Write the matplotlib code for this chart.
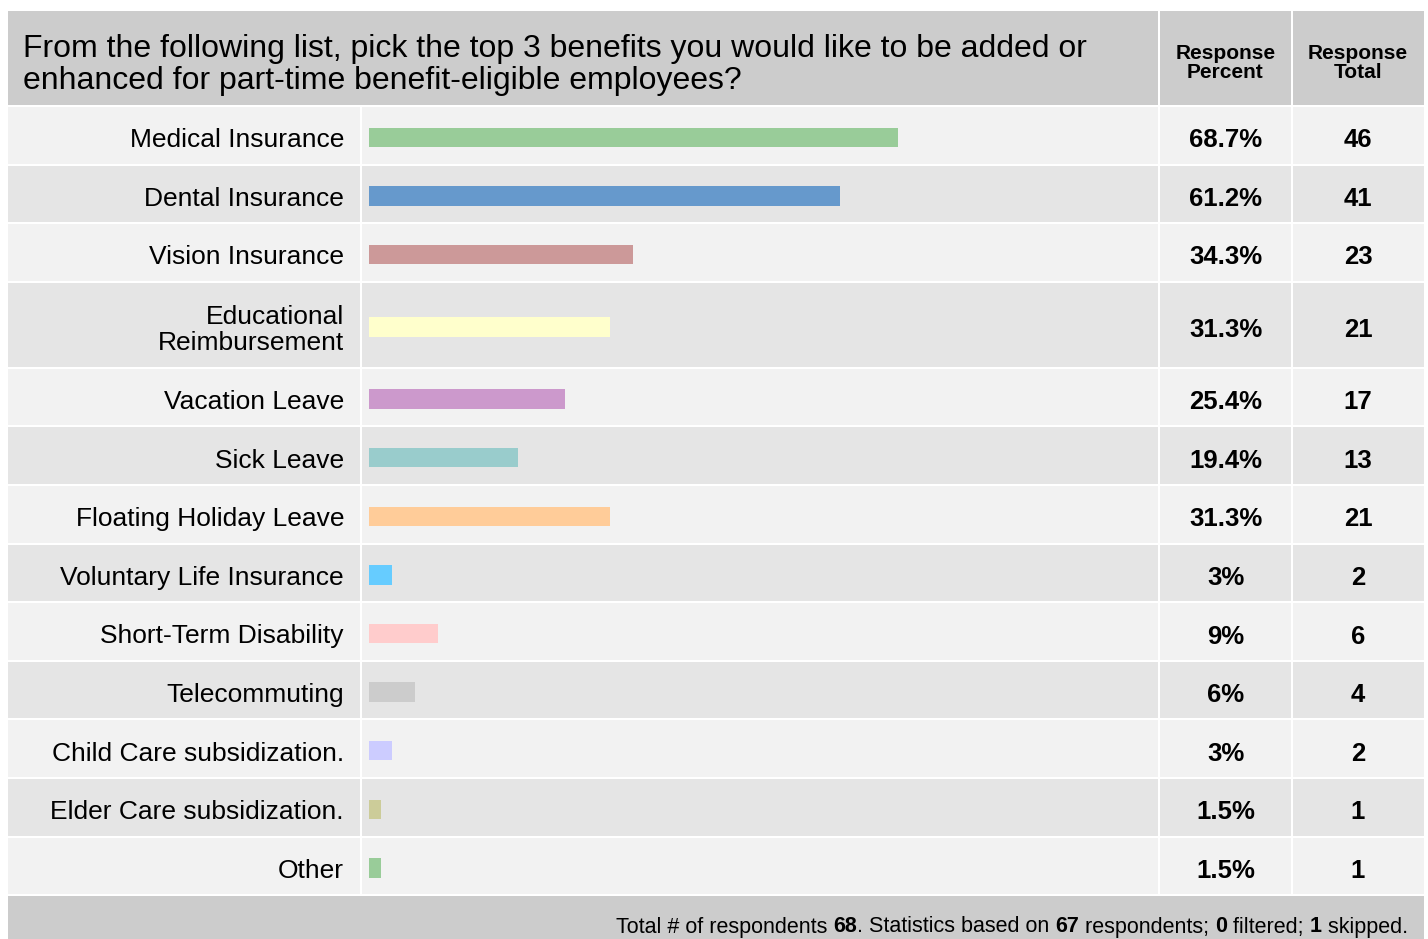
import matplotlib
matplotlib.use("Agg")
import matplotlib.pyplot as plt
from matplotlib.patches import Rectangle
from matplotlib import font_manager

# survey data
categories = ["Medical Insurance", "Dental Insurance", "Vision Insurance",
              "Educational\nReimbursement", "Vacation Leave", "Sick Leave",
              "Floating Holiday Leave", "Voluntary Life Insurance",
              "Short-Term Disability", "Telecommuting",
              "Child Care subsidization.", "Elder Care subsidization.", "Other"]
percents = [68.7, 61.2, 34.3, 31.3, 25.4, 19.4, 31.3, 3, 9, 6, 3, 1.5, 1.5]
percent_labels = ["68.7%", "61.2%", "34.3%", "31.3%", "25.4%", "19.4%", "31.3%",
                  "3%", "9%", "6%", "3%", "1.5%", "1.5%"]
totals = [46, 41, 23, 21, 17, 13, 21, 2, 6, 4, 2, 1, 1]
bar_colors = ["#99CC99", "#6699CC", "#CC9999", "#FFFFCC", "#CC99CC", "#99CCCC",
              "#FFCC99", "#66CCFF", "#FFCCCC", "#CCCCCC", "#CCCCFF", "#CCCC99",
              "#99CC99"]
title = ("From the following list, pick the top 3 benefits you would like to be added or\n"
         "enhanced for part-time benefit-eligible employees?")
footer_parts = [("Total # of respondents ", False), ("68", True),
                (". Statistics based on ", False), ("67", True),
                (" respondents; ", False), ("0", True), (" filtered; ", False),
                ("1", True), (" skipped.", False)]

W, H = 1428, 939
names = {f.name for f in font_manager.fontManager.ttflist}
narrow = "Liberation Sans Narrow" if "Liberation Sans Narrow" in names else "Liberation Sans"
plt.rcParams["font.family"] = ["Liberation Sans", "DejaVu Sans"]

fig = plt.figure(figsize=(W / 100, H / 100), dpi=100)
ax = fig.add_axes([0, 0, 1, 1])
ax.set_xlim(0, W)
ax.set_ylim(H, 0)
ax.axis("off")

# column edges
x0, c1, c2, c3, x1 = 8, 361, 1159, 1292, 1424
gap = 2
head_top, head_bot = 11, 105

# header
ax.add_patch(Rectangle((x0, head_top), c2 - x0 - 1, head_bot - head_top, color="#CCCCCC", lw=0))
ax.add_patch(Rectangle((c2 + 1, head_top), c3 - c2 - 2, head_bot - head_top, color="#CCCCCC", lw=0))
ax.add_patch(Rectangle((c3 + 1, head_top), x1 - c3 - 1, head_bot - head_top, color="#CCCCCC", lw=0))
ax.text(23, 65, title, fontsize=23, ha="left", va="center", linespacing=1.08)
ax.text((c2 + c3) / 2, 63, "Response\nPercent", fontsize=15, fontweight="bold",
        family=[narrow, "DejaVu Sans"], ha="center", va="center", linespacing=1.02)
ax.text((c3 + x1) / 2, 63, "Response\nTotal", fontsize=15, fontweight="bold",
        family=[narrow, "DejaVu Sans"], ha="center", va="center", linespacing=1.02)

# rows
pitch, tall = 58.6, 86
heights = [tall if "\n" in c else pitch for c in categories]
tops = []
y = head_bot + gap
for h in heights:
    tops.append(y)
    y += h
centers = []
for i, (t, h) in enumerate(zip(tops, heights)):
    bg = "#F2F2F2" if i % 2 == 0 else "#E5E5E5"
    hh = h - gap
    for a, b in [(x0, c1 - 1), (c1 + 1, c2 - 1), (c2 + 1, c3 - 1), (c3 + 1, x1)]:
        ax.add_patch(Rectangle((a, t), b - a, hh, color=bg, lw=0))
    cy = t + hh / 2
    centers.append(cy)
    ax.text(344, cy + 5, categories[i], fontsize=19, ha="right", va="center",
            linespacing=1.1)
    ax.text((c2 + c3) / 2, cy + 5, percent_labels[i], fontsize=18.5, ha="center",
            va="center", fontweight="bold")
    ax.text((c3 + x1) / 2, cy + 5, str(totals[i]), fontsize=18.5, ha="center",
            va="center", fontweight="bold")

# footer
foot_top = y + gap - 2
ax.add_patch(Rectangle((x0, foot_top), x1 - x0, H - foot_top, color="#CCCCCC", lw=0))

# bars
bax = fig.add_axes([c1 / W, 0, (c2 - c1) / W, 1])
px_per_pct = 7.7
bax.set_xlim(-8 / px_per_pct, (c2 - c1 - 8) / px_per_pct)
bax.set_ylim(H, 0)
bax.axis("off")
bax.barh([c + 2 for c in centers], percents, height=19.5, color=bar_colors, lw=0)

# footer text, placed right to left
fig.canvas.draw()
renderer = fig.canvas.get_renderer()
xr = 1408
for txt, bold in reversed(footer_parts):
    t = ax.text(xr, 927, txt, fontsize=15.5, family=[narrow, "DejaVu Sans"],
                fontweight="bold" if bold else "normal", ha="right", va="center")
    bb = t.get_window_extent(renderer)
    xr -= bb.width

fig.savefig("out.png", dpi=100)
